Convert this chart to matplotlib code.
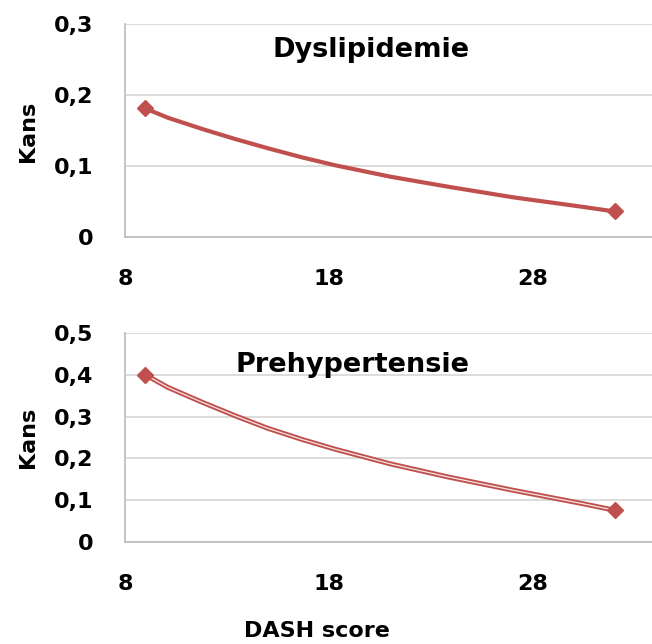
import matplotlib
matplotlib.use("Agg")
import matplotlib.pyplot as plt

# Data
dash_score = [9.0, 10.1, 11.8, 13.4, 15.0, 16.7, 18.3, 21.0, 23.8, 27.0, 30.3, 32.0]
kans_dyslipidemie = [0.181, 0.168, 0.152, 0.138, 0.125, 0.112, 0.101, 0.085, 0.071,
                     0.056, 0.043, 0.036]
kans_prehypertensie = [0.400, 0.370, 0.334, 0.302, 0.272, 0.245, 0.222, 0.187, 0.156,
                       0.124, 0.093, 0.076]

x_ticks = [8, 18, 28]
y_ticks_top = [0, 0.1, 0.2, 0.3]
y_tick_labels_top = ["0", "0,1", "0,2", "0,3"]
y_ticks_bot = [0, 0.1, 0.2, 0.3, 0.4, 0.5]
y_tick_labels_bot = ["0", "0,1", "0,2", "0,3", "0,4", "0,5"]

RED = "#C0504D"
GRID = "#D9D9D9"
SPINE = "#BFBFBF"
FS = 16

plt.rcParams["font.family"] = ["DejaVu Sans"]
plt.rcParams["font.weight"] = "bold"

fig = plt.figure(figsize=(6.52, 6.44), dpi=100)
W, H = 652, 644

def make_ax(left_px, right_px, top_px, bottom_px):
    return fig.add_axes([left_px / W, 1 - bottom_px / H,
                         (right_px - left_px) / W, (bottom_px - top_px) / H])

ax1 = make_ax(125, 652, 24, 237)
ax2 = make_ax(125, 652, 333, 542)

def style(ax, yticks, ylabels, ymax):
    ax.set_xlim(8, 8 + (652 - 125) / 20.4)
    ax.set_ylim(0, ymax)
    ax.set_xticks(x_ticks)
    ax.set_xticklabels([str(t) for t in x_ticks], fontweight="bold", fontsize=FS)
    ax.set_yticks(yticks)
    ax.set_yticklabels(ylabels, fontweight="bold", fontsize=FS)
    ax.grid(axis="y", color=GRID, linewidth=1.3)
    ax.set_axisbelow(True)
    for s in ["top", "right"]:
        ax.spines[s].set_visible(False)
    for s in ["left", "bottom"]:
        ax.spines[s].set_color(SPINE)
        ax.spines[s].set_linewidth(1.3)
    ax.tick_params(axis="both", length=0)
    ax.tick_params(axis="x", pad=23)
    ax.tick_params(axis="y", pad=23)

style(ax1, y_ticks_top, y_tick_labels_top, 0.3)
style(ax2, y_ticks_bot, y_tick_labels_bot, 0.5)

# Top: solid line
ax1.plot(dash_score, kans_dyslipidemie, color=RED, linewidth=3.0,
         marker="D", markersize=8, markevery=[0, len(dash_score) - 1],
         solid_joinstyle="round", solid_capstyle="round")

# Bottom: compound (double) line
ax2.plot(dash_score, kans_prehypertensie, color=RED, linewidth=3.6,
         solid_joinstyle="round", solid_capstyle="round")
ax2.plot(dash_score, kans_prehypertensie, color="white", linewidth=0.9,
         alpha=0.85, solid_joinstyle="round")
ax2.plot([dash_score[0], dash_score[-1]],
         [kans_prehypertensie[0], kans_prehypertensie[-1]],
         linestyle="none", marker="D", markersize=8, color=RED)

def ftext(xp, yp, s, **kw):
    fig.text(xp / W, 1 - yp / H, s, **kw)

ftext(371, 57, "Dyslipidemie", ha="center", va="baseline", fontsize=19.5,
      fontweight="bold")
ftext(352, 372, "Prehypertensie", ha="center", va="baseline", fontsize=19.5,
      fontweight="bold")
ftext(28, 131, "Kans", ha="center", va="center", rotation=90, fontsize=FS,
      fontweight="bold")
ftext(28, 437, "Kans", ha="center", va="center", rotation=90, fontsize=FS,
      fontweight="bold")
ftext(317, 637, "DASH score", ha="center", va="baseline", fontsize=FS,
      fontweight="bold")

fig.savefig("out.png", dpi=100)
